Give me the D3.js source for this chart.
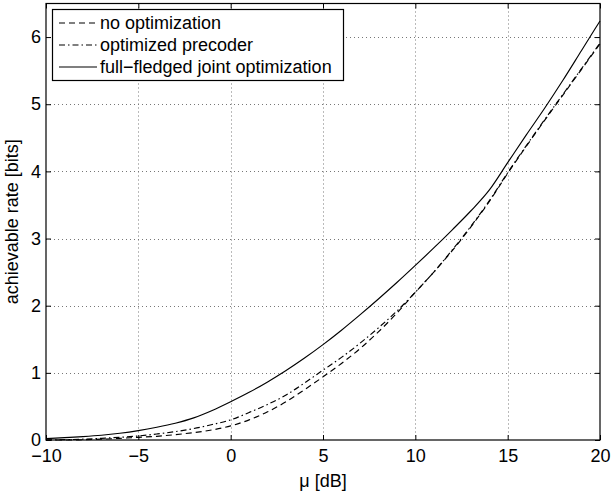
<!DOCTYPE html>
<html>
<head>
<meta charset="utf-8">
<script src="https://cdn.jsdelivr.net/npm/d3@7.9.0/dist/d3.min.js"></script>
<style>
  body { margin: 0; background: #fff; }
  svg { font-family: "Liberation Sans", Arial, Helvetica, sans-serif; }
</style>
</head>
<body>
<svg id="chart" width="611" height="491"></svg>
<script>
// values
const mu = [-10, -9, -8, -7, -6, -5, -4, -3, -2, -1, 0, 1, 2, 3, 4, 5, 6, 7, 8, 9, 10,
            11, 12, 13, 14, 15, 16, 17, 18, 19, 20];
const noOpt = [0.0, 0.0, 0.004, 0.012, 0.025, 0.04, 0.055, 0.08, 0.11, 0.15, 0.21,
               0.3, 0.42, 0.57, 0.75, 0.94, 1.14, 1.36, 1.61, 1.89, 2.2,
               2.5, 2.82, 3.17, 3.55, 3.97, 4.37, 4.76, 5.14, 5.52, 5.9];
const optPrecoder = [0.0, 0.005, 0.012, 0.025, 0.04, 0.06, 0.09, 0.125, 0.17, 0.23, 0.3,
                     0.41, 0.53, 0.67, 0.85, 1.04, 1.23, 1.44, 1.67, 1.92, 2.2,
                     2.5, 2.83, 3.18, 3.56, 3.98, 4.38, 4.77, 5.15, 5.53, 5.91];
const jointOpt = [0.02, 0.035, 0.05, 0.07, 0.1, 0.14, 0.19, 0.25, 0.33, 0.44, 0.57,
                  0.71, 0.865, 1.035, 1.22, 1.42, 1.635, 1.863, 2.1, 2.345, 2.6,
                  2.86, 3.13, 3.41, 3.72, 4.13, 4.54, 4.94, 5.36, 5.8, 6.24];
const xTicks = [-10, -5, 0, 5, 10, 15, 20];
const yTicks = [0, 1, 2, 3, 4, 5, 6];
const seriesNames = ["no optimization", "optimized precoder", "full\u2212fledged joint optimization"];

const svg = d3.select("#chart");
const plotLeft = 46, plotRight = 600, plotTop = 3.5, plotBottom = 440;
const fontSize = 18;

const x = d3.scaleLinear().domain([-10, 20]).range([plotLeft, plotRight]);
const y = d3.scaleLinear().domain([0, 6.5]).range([plotBottom, plotTop]);

const fmt = d => d < 0 ? "\u2212" + Math.abs(d) : String(d);

// grid
const grid = svg.append("g")
  .attr("stroke", "#777")
  .attr("stroke-width", 1)
  .attr("stroke-dasharray", "1,3");
xTicks.slice(1, -1).forEach(t => {
  grid.append("line")
    .attr("x1", Math.round(x(t)) + 0.5).attr("x2", Math.round(x(t)) + 0.5)
    .attr("y1", plotTop).attr("y2", plotBottom);
});
yTicks.slice(1).forEach(t => {
  grid.append("line")
    .attr("x1", plotLeft).attr("x2", plotRight)
    .attr("y1", Math.round(y(t)) + 0.5).attr("y2", Math.round(y(t)) + 0.5);
});

// axes (ticks inside, on all four sides)
const tickLen = 5;
const axBottom = d3.axisBottom(x).tickValues(xTicks).tickSize(-tickLen).tickPadding(9).tickFormat(fmt);
const axTop = d3.axisTop(x).tickValues(xTicks).tickSize(-tickLen).tickFormat("");
const axLeft = d3.axisLeft(y).tickValues(yTicks).tickSize(-tickLen).tickPadding(5).tickFormat(fmt);
const axRight = d3.axisRight(y).tickValues(yTicks).tickSize(-tickLen).tickFormat("");

function styleAxis(g) {
  g.select(".domain").remove();
  g.selectAll("line").attr("stroke", "#000");
  g.selectAll("text").attr("fill", "#000").attr("font-size", fontSize).attr("font-family", null);
}
svg.append("g").attr("transform", `translate(0,${plotBottom})`).call(axBottom).call(styleAxis);
svg.append("g").attr("transform", `translate(0,${plotTop})`).call(axTop).call(styleAxis);
svg.append("g").attr("transform", `translate(${plotLeft},0)`).call(axLeft).call(styleAxis);
svg.append("g").attr("transform", `translate(${plotRight},0)`).call(axRight).call(styleAxis);

svg.append("rect")
  .attr("x", plotLeft).attr("y", plotTop)
  .attr("width", plotRight - plotLeft).attr("height", plotBottom - plotTop)
  .attr("fill", "none").attr("stroke", "#000").attr("stroke-width", 1.2);

// curves
const dashes = ["6,4", "6,3,1.5,3", null];
const allSeries = [noOpt, optPrecoder, jointOpt];
const line = d3.line()
  .x((d, i) => x(mu[i]))
  .y(d => y(d))
  .curve(d3.curveMonotoneX);

allSeries.forEach((vals, i) => {
  svg.append("path")
    .datum(vals)
    .attr("d", line)
    .attr("fill", "none")
    .attr("stroke", "#000")
    .attr("stroke-width", 1.15)
    .attr("stroke-dasharray", dashes[i]);
});

// axis labels
svg.append("text")
  .attr("x", (plotLeft + plotRight) / 2).attr("y", 487)
  .attr("text-anchor", "middle")
  .attr("font-size", fontSize)
  .text("\u03bc [dB]");

svg.append("text")
  .attr("transform", `translate(18,${(plotTop + plotBottom) / 2}) rotate(-90)`)
  .attr("text-anchor", "middle")
  .attr("font-size", fontSize)
  .text("achievable rate [bits]");

// legend
const legend = svg.append("g");
legend.append("rect")
  .attr("x", 52.5).attr("y", 9.5)
  .attr("width", 291).attr("height", 71)
  .attr("fill", "#fff").attr("stroke", "#000").attr("stroke-width", 1.2);

seriesNames.forEach((name, i) => {
  const ly = 23 + i * 22;
  legend.append("line")
    .attr("x1", 59).attr("x2", 97)
    .attr("y1", ly).attr("y2", ly)
    .attr("stroke", "#000").attr("stroke-width", 1.15)
    .attr("stroke-dasharray", dashes[i]);
  legend.append("text")
    .attr("x", 100).attr("y", ly)
    .attr("dy", "0.35em")
    .attr("font-size", fontSize)
    .text(name);
});
</script>
</body>
</html>
